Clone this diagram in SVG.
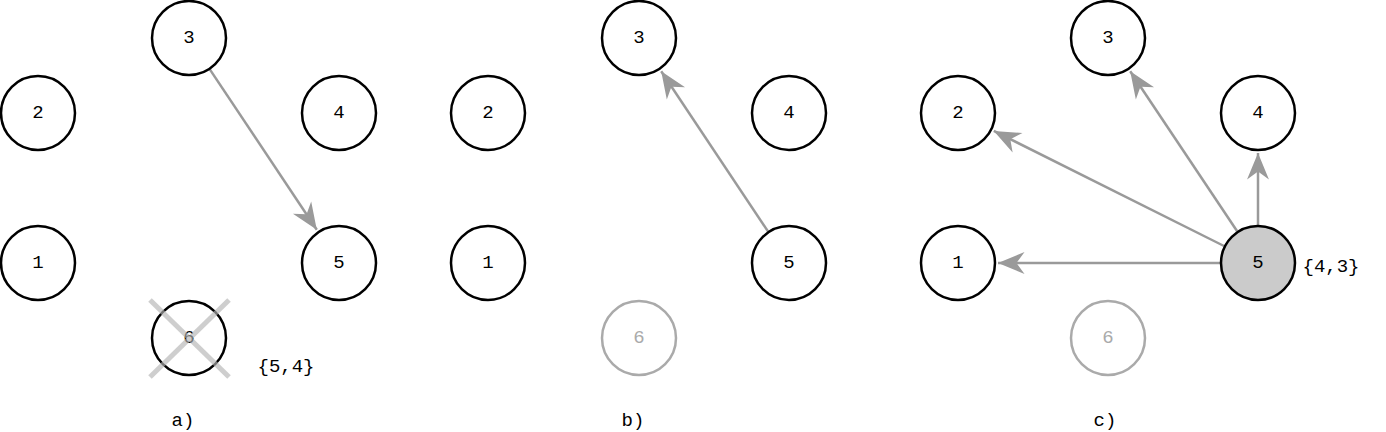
<svg xmlns="http://www.w3.org/2000/svg" width="1386" height="432" viewBox="0 0 1386 432">
<style>
.n circle{fill:#fff;stroke:#000;stroke-width:2.5}
.n text,.t{font-family:"Liberation Mono","DejaVu Sans Mono",monospace;font-size:19px;text-anchor:middle;dominant-baseline:central;fill:#000}
.g circle{stroke:#aaa}
.g text{fill:#aaa}
.e{stroke:#9a9a9a;stroke-width:2.5;fill:none;marker-end:url(#ah)}
</style>
<defs>
<marker id="ah" markerUnits="userSpaceOnUse" markerWidth="30" markerHeight="30" viewBox="-24 -12 26 24" refX="0" refY="0" orient="auto">
<path d="M0,0 L-23,-9.5 L-16,0 L-23,9.5 Z" fill="#9a9a9a"/>
</marker>
</defs>
<rect width="1386" height="432" fill="#fff"/>
<g id="connectors">
<line class="e" x1="210" y1="69.6" x2="316.8" y2="229.7"/>
<line class="e" x1="768" y1="231.4" x2="661.2" y2="71.3"/>
<line class="e" x1="1220" y1="263" x2="998" y2="263"/>
<line class="e" x1="1224" y1="246" x2="993.8" y2="130.9"/>
<line class="e" x1="1237" y1="231" x2="1130.2" y2="71.3"/>
<line class="e" x1="1258" y1="225" x2="1258" y2="153"/>
</g>
<g id="a2" class="n"><circle cx="38" cy="113" r="37"/><text x="38" y="113">2</text></g>
<g id="a3" class="n"><circle cx="189" cy="38" r="37"/><text x="189" y="38">3</text></g>
<g id="a4" class="n"><circle cx="339" cy="113" r="37"/><text x="339" y="113">4</text></g>
<g id="a1" class="n"><circle cx="38" cy="263" r="37"/><text x="38" y="263">1</text></g>
<g id="a5" class="n"><circle cx="339" cy="263" r="37"/><text x="339" y="263">5</text></g>
<g id="a6" class="n"><circle cx="189" cy="338" r="37"/><text x="189" y="338">6</text>
<g stroke="#b4b4b4" stroke-width="5" opacity="0.65"><line x1="150" y1="300" x2="229" y2="377"/><line x1="150" y1="377" x2="229" y2="300"/></g></g>
<text class="t" x="286" y="367">{5,4}</text>
<text class="t" x="183" y="421">a)</text>
<g id="b2" class="n"><circle cx="488" cy="113" r="37"/><text x="488" y="113">2</text></g>
<g id="b3" class="n"><circle cx="639" cy="38" r="37"/><text x="639" y="38">3</text></g>
<g id="b4" class="n"><circle cx="789" cy="113" r="37"/><text x="789" y="113">4</text></g>
<g id="b1" class="n"><circle cx="488" cy="263" r="37"/><text x="488" y="263">1</text></g>
<g id="b5" class="n"><circle cx="789" cy="263" r="37"/><text x="789" y="263">5</text></g>
<g id="b6" class="n g"><circle cx="639" cy="338" r="37"/><text x="639" y="338">6</text></g>
<text class="t" x="633" y="421">b)</text>
<g id="c2" class="n"><circle cx="958" cy="113" r="37"/><text x="958" y="113">2</text></g>
<g id="c3" class="n"><circle cx="1108" cy="38" r="37"/><text x="1108" y="38">3</text></g>
<g id="c4" class="n"><circle cx="1258" cy="113" r="37"/><text x="1258" y="113">4</text></g>
<g id="c1" class="n"><circle cx="958" cy="263" r="37"/><text x="958" y="263">1</text></g>
<g id="c5" class="n"><circle cx="1258" cy="263" r="37" style="fill:#cbcbcb"/><text x="1258" y="263">5</text></g>
<g id="c6" class="n g"><circle cx="1108" cy="338" r="37"/><text x="1108" y="338">6</text></g>
<text class="t" x="1331" y="267">{4,3}</text>
<text class="t" x="1105" y="421">c)</text>
</svg>
